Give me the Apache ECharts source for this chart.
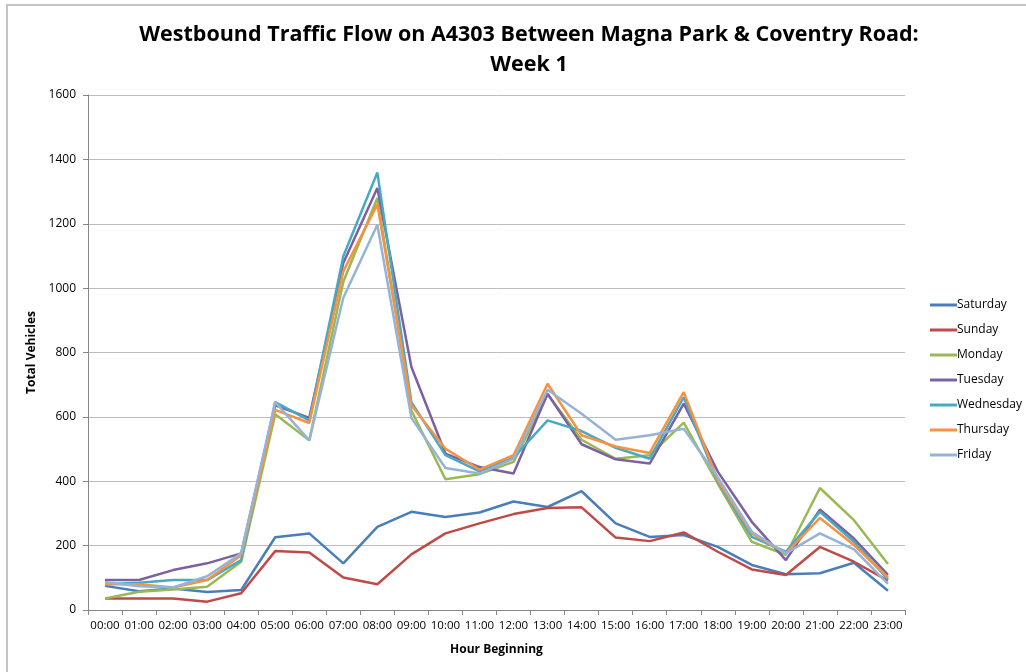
<!DOCTYPE html>
<html>
<head>
<meta charset="utf-8">
<script src="https://cdn.jsdelivr.net/npm/echarts@6/dist/echarts.min.js"></script>
<style>
  html, body { margin: 0; padding: 0; background: #fff; }
  #chart { width: 1026px; height: 672px; }
</style>
</head>
<body>
<div id="chart"></div>
<script>
// Hourly westbound vehicle counts, week 1
const hours = ['00:00','01:00','02:00','03:00','04:00','05:00','06:00','07:00','08:00','09:00','10:00','11:00',
               '12:00','13:00','14:00','15:00','16:00','17:00','18:00','19:00','20:00','21:00','22:00','23:00'];

const saturday  = [75, 58, 67, 56, 62, 226, 238, 145, 258, 305, 289, 303, 337, 320, 369, 269, 227, 233, 196, 140, 111, 114, 147, 60];
const sunday    = [36, 36, 36, 26, 52, 183, 179, 101, 80, 173, 238, 269, 298, 317, 319, 225, 214, 241, 181, 126, 109, 196, 150, 91];
const monday    = [36, 57, 64, 72, 150, 608, 527, 1020, 1280, 620, 406, 422, 460, 670, 529, 470, 481, 582, 393, 212, 171, 379, 279, 143];
const tuesday   = [93, 93, 124, 145, 176, 636, 597, 1078, 1311, 755, 486, 444, 424, 672, 515, 468, 455, 641, 430, 274, 155, 312, 222, 109];
const wednesday = [80, 85, 93, 93, 155, 646, 589, 1099, 1359, 646, 481, 431, 473, 589, 556, 504, 470, 661, 398, 227, 181, 305, 212, 95];
const thursday  = [80, 80, 70, 93, 170, 622, 581, 1052, 1260, 636, 501, 436, 481, 703, 543, 508, 488, 677, 403, 238, 176, 286, 202, 101];
const friday    = [86, 74, 70, 105, 176, 646, 527, 970, 1197, 597, 441, 424, 470, 684, 610, 529, 543, 563, 413, 243, 176, 238, 188, 81];

const seriesDefs = [
  ['Saturday', saturday, '#4a7ebb'],
  ['Sunday', sunday, '#be4b48'],
  ['Monday', monday, '#98b954'],
  ['Tuesday', tuesday, '#7d60a0'],
  ['Wednesday', wednesday, '#46aac5'],
  ['Thursday', thursday, '#f69240'],
  ['Friday', friday, '#95b3d7']
];

const font = '"Open Sans", "Liberation Sans", sans-serif';
const chart = echarts.init(document.getElementById('chart'), null, { renderer: 'canvas' });

chart.setOption({
  backgroundColor: '#ffffff',
  animation: false,
  graphic: [{
    type: 'rect',
    shape: { x: 7, y: 5, width: 1040, height: 700 },
    style: { fill: 'none', stroke: '#c4c4c4', lineWidth: 2 },
    silent: true
  }],
  title: {
    text: 'Westbound Traffic Flow on A4303 Between Magna Park & Coventry Road:\nWeek 1',
    left: 524,
    textAlign: 'center',
    top: 15,
    textStyle: { fontFamily: font, fontSize: 21.5, fontWeight: 'bold', color: '#000', lineHeight: 30 }
  },
  legend: {
    orient: 'vertical',
    left: 925,
    top: 293,
    itemWidth: 27,
    itemHeight: 14,
    itemGap: 11,
    icon: 'rect',
    data: seriesDefs.map(d => ({ name: d[0], icon: 'path://M0,6 L27,6 L27,9 L0,9 Z' })),
    textStyle: { fontFamily: font, fontSize: 12, color: '#000', padding: [0, 0, 0, -5], lineHeight: 14, height: 14 }
  },
  grid: { left: 88, right: 121, top: 95, bottom: 62 },
  xAxis: {
    type: 'category',
    data: hours,
    boundaryGap: true,
    name: 'Hour Beginning',
    nameLocation: 'middle',
    nameGap: 34,
    nameTextStyle: { fontFamily: font, fontSize: 12, fontWeight: 'bold', color: '#000' },
    axisLine: { lineStyle: { color: '#868686', width: 1 } },
    axisTick: { show: true, length: 5, lineStyle: { color: '#868686' } },
    axisLabel: { interval: 0, fontFamily: font, fontSize: 11.5, color: '#000', margin: 10 },
    splitLine: { show: false }
  },
  yAxis: {
    type: 'value',
    min: 0,
    max: 1600,
    interval: 200,
    name: 'Total Vehicles',
    nameLocation: 'middle',
    nameGap: 43,
    nameRotate: 90,
    nameTextStyle: { fontFamily: font, fontSize: 12, fontWeight: 'bold', color: '#000' },
    axisLine: { show: true, lineStyle: { color: '#868686', width: 1 } },
    axisTick: { show: true, length: 5, lineStyle: { color: '#868686' } },
    axisLabel: { fontFamily: font, fontSize: 12, color: '#000', margin: 12, formatter: v => String(v) },
    splitLine: { show: true, lineStyle: { color: '#bcbcbc', width: 1 } }
  },
  series: seriesDefs.map(d => ({
    name: d[0],
    type: 'line',
    data: d[1],
    symbol: 'none',
    color: d[2],
    lineStyle: { color: d[2], width: 2.5 }
  }))
});
</script>
</body>
</html>
